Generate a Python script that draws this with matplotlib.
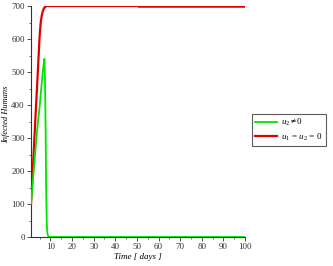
import matplotlib
matplotlib.use("Agg")
import matplotlib.pyplot as plt
from matplotlib.ticker import MultipleLocator

plt.rcParams['font.family'] = ['Liberation Serif', 'DejaVu Serif']
plt.rcParams['mathtext.fontset'] = 'custom'
plt.rcParams['mathtext.rm'] = 'Liberation Serif'
plt.rcParams['mathtext.it'] = 'Liberation Serif:italic'

# Data
t_red = [1, 2, 3, 4, 5, 5.5, 6, 6.5, 7, 7.5, 8, 8.5, 9, 20, 30, 40, 50, 51, 60, 70, 80, 90, 100]
red = [100, 225, 355, 480, 610, 650, 672, 685, 693, 697, 699, 700, 700, 700, 700, 700, 700, 698, 698, 698, 698, 698, 698]
t_green = [1, 2, 3, 4, 5, 6, 6.5, 7, 7.2, 7.5, 7.8, 8, 8.3, 8.6, 9, 10, 20, 30, 40, 50, 60, 70, 80, 90, 100]
green = [100, 180, 260, 335, 395, 470, 505, 530, 540, 470, 300, 150, 40, 10, 2, 0, 0, 0, 0, 0, 0, 0, 0, 0, 0]
labels = [r'$u_2 \neq 0$', r'$u_1\,=\,u_2\,=\,0$']

fig = plt.figure(figsize=(3.33, 2.66), dpi=100)
ax = fig.add_axes([31/333, 1-237/266, (245-31)/333, (237-6)/266])
lg, = ax.plot(t_green, green, color='#00e600', lw=1.3, label=labels[0], zorder=3)
lr, = ax.plot(t_red, red, color='#e00000', lw=1.6, label=labels[1], zorder=2)
ax.set_xlim(1, 100)
ax.set_ylim(0, 700)
ax.xaxis.set_major_locator(MultipleLocator(10))
ax.xaxis.set_minor_locator(MultipleLocator(5))
ax.yaxis.set_major_locator(MultipleLocator(100))
ax.yaxis.set_minor_locator(MultipleLocator(50))
for s in ['top', 'right']:
    ax.spines[s].set_visible(False)
for s in ['left', 'bottom']:
    ax.spines[s].set_linewidth(0.8)
    ax.spines[s].set_color('#333333')
ax.tick_params(which='major', length=3, width=0.6, labelsize=6.5, pad=1.5, colors='#333333')
ax.tick_params(which='minor', length=1.5, width=0.5, colors='#333333')
ax.set_xlabel('Time [ days ]', fontsize=6.5, style='italic', labelpad=1)
ax.set_ylabel('Infected Humans', fontsize=6, style='italic', va='center')
ax.yaxis.set_label_coords(-0.117, 0.53)

leg = fig.legend(handles=[lg, lr], labels=labels, loc='upper left',
                 bbox_to_anchor=(252/333, 1-114/266), fontsize=6.5,
                 frameon=True, fancybox=False, edgecolor='#333333', borderaxespad=0,
                 handlelength=2.4, borderpad=0.35, labelspacing=0.35, handletextpad=0.5)
leg.get_frame().set_linewidth(0.8)

fig.savefig('out.png', dpi=100)
